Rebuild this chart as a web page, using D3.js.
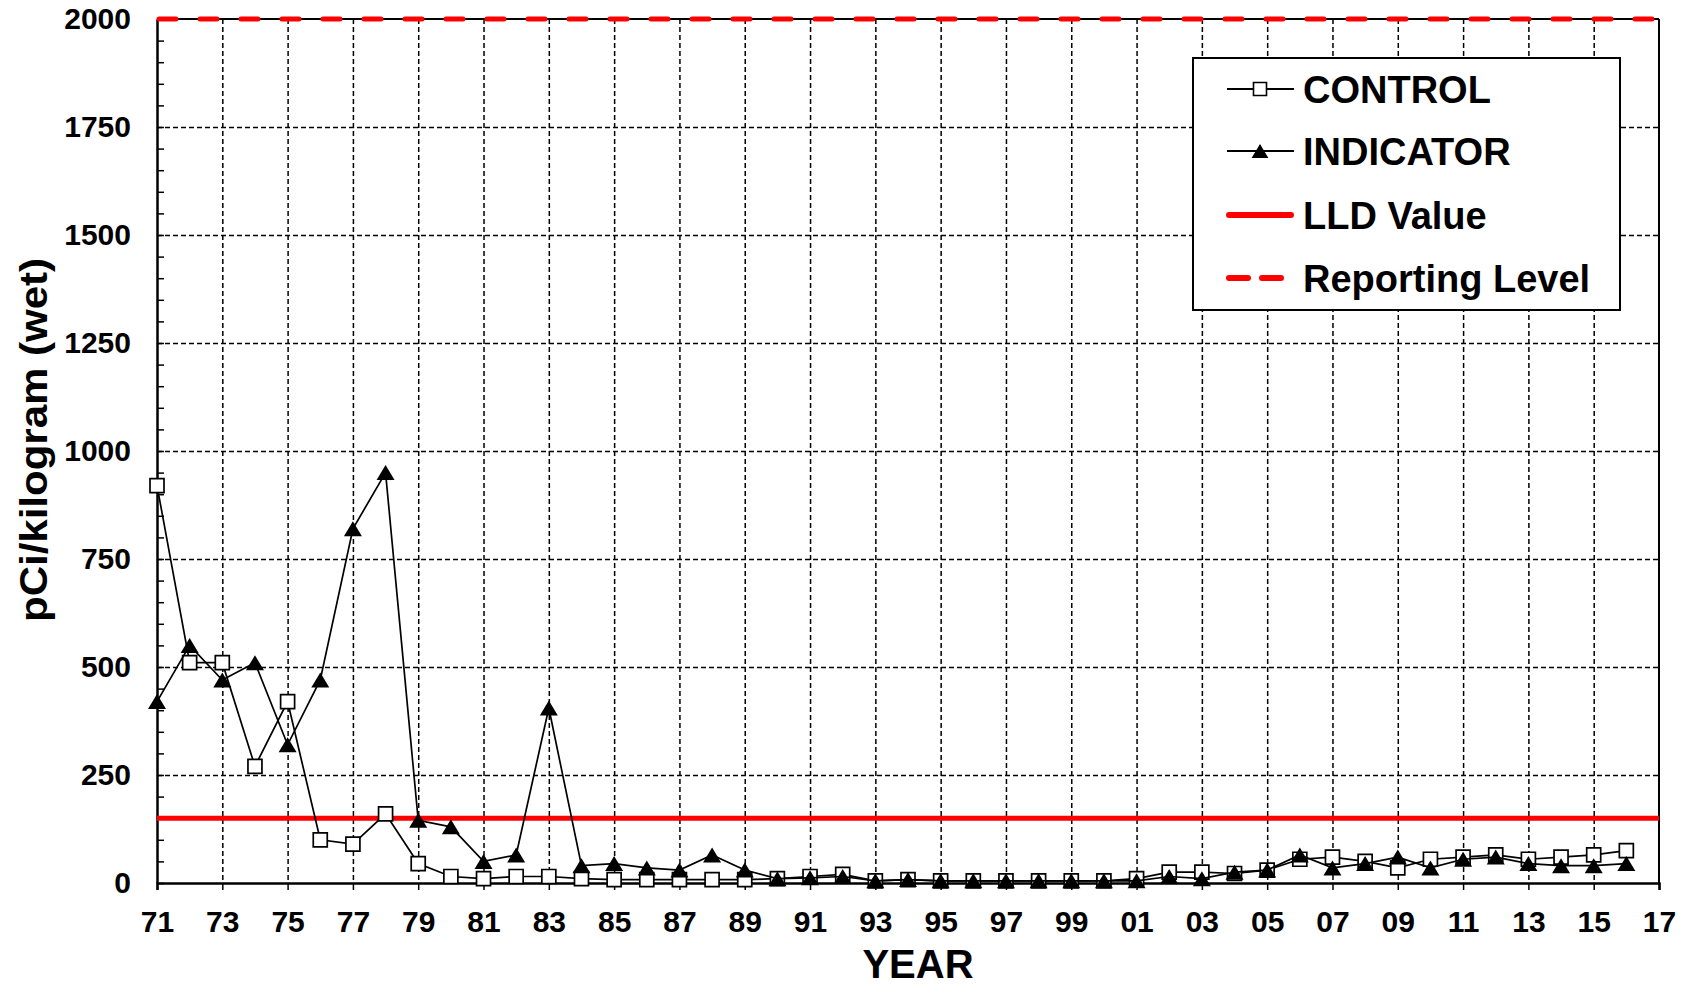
<!DOCTYPE html>
<html>
<head>
<meta charset="utf-8">
<script src="https://cdn.jsdelivr.net/npm/d3@7"></script>
<style>
  body { margin: 0; background: #fff; }
  text { font-family: "Liberation Sans", Arial, sans-serif; font-weight: bold; fill: #000; }
</style>
</head>
<body>
<div id="chart"></div>
<script>
// data (years 1971-2016)
var years = d3.range(1971, 2017);
var control = [920, 510, 510, 270, 420, 100, 90, 160, 45, 15,
               10, 15, 15, 10, 8, 8, 8, 8, 8, 10,
               15, 20, 5, 8, 5, 5, 5, 5, 5, 5,
               10, 25, 25, 22, 30, 55, 60, 50, 35, 55,
               60, 65, 55, 60, 65, 75];
var indicator = [420, 550, 470, 510, 320, 470, 820, 950, 145, 130,
                 50, 65, 405, 40, 45, 35, 30, 65, 30, 10,
                 12, 15, 5, 8, 5, 5, 5, 5, 5, 5,
                 5, 15, 10, 25, 30, 65, 35, 45, 60, 35,
                 55, 60, 45, 40, 40, 45];
var lldValue = 150;
var reportingLevel = 2000;
var yTicks = d3.range(0, 2001, 250);
var xTicks = d3.range(1971, 2018, 2);
var legendLabels = ["CONTROL", "INDICATOR", "LLD Value", "Reporting Level"];

var svgWidth = 1696;
var svgHeight = 987;
var margin = { top: 19, right: 37, bottom: 104, left: 157 };
var width = svgWidth - margin.left - margin.right;
var height = svgHeight - margin.top - margin.bottom;

var svg = d3.select("#chart")
  .append("svg")
  .attr("width", svgWidth)
  .attr("height", svgHeight);

var chartGroup = svg.append("g")
  .attr("transform", `translate(${margin.left}, ${margin.top})`);

var xScale = d3.scaleLinear().domain([1971, 2017]).range([0, width]);
var yScale = d3.scaleLinear().domain([0, 2000]).range([height, 0]);

// box-centred triangle, like the spreadsheet marker
var boxTriangle = {
  draw: function(context, size) {
    var h = Math.sqrt(size);
    var w = h * 1.2;
    context.moveTo(0, -h / 2);
    context.lineTo(w / 2, h / 2);
    context.lineTo(-w / 2, h / 2);
    context.closePath();
  }
};

// gridlines
chartGroup.append("g")
  .attr("class", "grid")
  .call(d3.axisLeft(yScale).tickValues(yTicks.slice(1, -1)).tickSize(-width).tickFormat(""))
  .call(g => g.select(".domain").remove());
chartGroup.append("g")
  .attr("class", "grid")
  .call(d3.axisBottom(xScale).tickValues(xTicks.slice(1, -1)).tickSize(height).tickFormat(""))
  .call(g => g.select(".domain").remove());
chartGroup.selectAll(".grid line")
  .attr("stroke", "#000")
  .attr("stroke-width", 1.5)
  .attr("stroke-dasharray", "5,3");

// minor ticks inside the y axis
chartGroup.append("g")
  .call(d3.axisRight(yScale).tickValues(d3.range(0, 2001, 50)).tickSize(7).tickFormat(""))
  .call(g => g.select(".domain").remove())
  .selectAll("line").attr("stroke", "#000").attr("stroke-width", 1.5);

// frame
chartGroup.append("line")
  .attr("x1", 0).attr("x2", width).attr("y1", 0).attr("y2", 0)
  .attr("stroke", "#000").attr("stroke-width", 2);
chartGroup.append("line")
  .attr("x1", width).attr("x2", width).attr("y1", 0).attr("y2", height)
  .attr("stroke", "#000").attr("stroke-width", 2);

// axes
var bottomAxis = d3.axisBottom(xScale)
  .tickValues(xTicks)
  .tickSize(7)
  .tickPadding(21)
  .tickFormat(d => String(d % 100).padStart(2, "0"));
var leftAxis = d3.axisLeft(yScale)
  .tickValues(yTicks)
  .tickSize(0)
  .tickPadding(26)
  .tickFormat(d3.format("d"));

var xAxisG = chartGroup.append("g")
  .attr("transform", `translate(0, ${height})`)
  .call(bottomAxis);
var yAxisG = chartGroup.append("g").call(leftAxis);

[xAxisG, yAxisG].forEach(function(g) {
  g.select(".domain").attr("stroke", "#000").attr("stroke-width", 2.5);
  g.selectAll("line").attr("stroke", "#000").attr("stroke-width", 1.5);
  g.selectAll("text")
    .attr("font-size", 30)
    .attr("font-family", "Liberation Sans, Arial, sans-serif")
    .attr("font-weight", "bold")
    .attr("fill", "#000");
});

// LLD value and reporting level
chartGroup.append("line")
  .attr("x1", 0).attr("x2", width)
  .attr("y1", yScale(lldValue)).attr("y2", yScale(lldValue))
  .attr("stroke", "#ff0000").attr("stroke-width", 5);
chartGroup.append("line")
  .attr("x1", 2).attr("x2", width)
  .attr("y1", yScale(reportingLevel)).attr("y2", yScale(reportingLevel))
  .attr("stroke", "#ff0000").attr("stroke-width", 5)
  .attr("stroke-linecap", "round")
  .attr("stroke-dasharray", "17,24");

// series
var line = d3.line().x(d => xScale(d[0])).y(d => yScale(d[1]));

var controlData = years.map((yr, i) => [yr, control[i]]);
var indicatorData = years.map((yr, i) => [yr, indicator[i]]);

chartGroup.append("path")
  .datum(controlData)
  .attr("d", line)
  .attr("fill", "none")
  .attr("stroke", "#000")
  .attr("stroke-width", 1.7);
chartGroup.selectAll(".ctrl")
  .data(controlData)
  .enter().append("path")
  .attr("class", "ctrl")
  .attr("transform", d => `translate(${xScale(d[0])}, ${yScale(d[1])})`)
  .attr("d", d3.symbol(d3.symbolSquare, 196))
  .attr("fill", "#fff")
  .attr("stroke", "#000")
  .attr("stroke-width", 1.7);

chartGroup.append("path")
  .datum(indicatorData)
  .attr("d", line)
  .attr("fill", "none")
  .attr("stroke", "#000")
  .attr("stroke-width", 1.7);
chartGroup.selectAll(".ind")
  .data(indicatorData)
  .enter().append("path")
  .attr("class", "ind")
  .attr("transform", d => `translate(${xScale(d[0])}, ${yScale(d[1])})`)
  .attr("d", d3.symbol(boxTriangle, 225))
  .attr("fill", "#000");

// axis labels
svg.append("text")
  .attr("x", 918)
  .attr("y", 978)
  .attr("text-anchor", "middle")
  .attr("font-size", 40)
  .text("YEAR");

svg.append("text")
  .attr("transform", "rotate(-90)")
  .attr("x", -440)
  .attr("y", 47)
  .attr("text-anchor", "middle")
  .attr("font-size", 38)
  .attr("textLength", 364)
  .attr("lengthAdjust", "spacingAndGlyphs")
  .text("pCi/kilogram (wet)");

// legend
var legend = svg.append("g");
legend.append("rect")
  .attr("x", 1193).attr("y", 58)
  .attr("width", 427).attr("height", 252)
  .attr("fill", "#fff")
  .attr("stroke", "#000")
  .attr("stroke-width", 2);

var legendY = [89, 151, 215, 278];
var items = legend.selectAll(".item")
  .data(legendLabels)
  .enter().append("g")
  .attr("class", "item")
  .attr("transform", (d, i) => `translate(0, ${legendY[i]})`);

items.append("line")
  .attr("x1", (d, i) => i < 2 ? 1227 : 1229)
  .attr("x2", (d, i) => i < 2 ? 1294 : 1291)
  .attr("y1", 0).attr("y2", 0)
  .attr("stroke", (d, i) => i < 2 ? "#000" : "#ff0000")
  .attr("stroke-width", (d, i) => i < 2 ? 1.8 : 6)
  .attr("stroke-linecap", (d, i) => i < 2 ? "butt" : "round")
  .attr("stroke-dasharray", (d, i) => i === 3 ? "19,14" : null);

items.filter((d, i) => i === 0).append("path")
  .attr("transform", "translate(1260, 0)")
  .attr("d", d3.symbol(d3.symbolSquare, 169))
  .attr("fill", "#fff").attr("stroke", "#000").attr("stroke-width", 1.6);
items.filter((d, i) => i === 1).append("path")
  .attr("transform", "translate(1260, 0)")
  .attr("d", d3.symbol(boxTriangle, 196))
  .attr("fill", "#000");

items.append("text")
  .attr("x", 1303)
  .attr("y", 0)
  .attr("dy", "0.36em")
  .attr("font-size", 38)
  .text(d => d);
</script>
</body>
</html>
